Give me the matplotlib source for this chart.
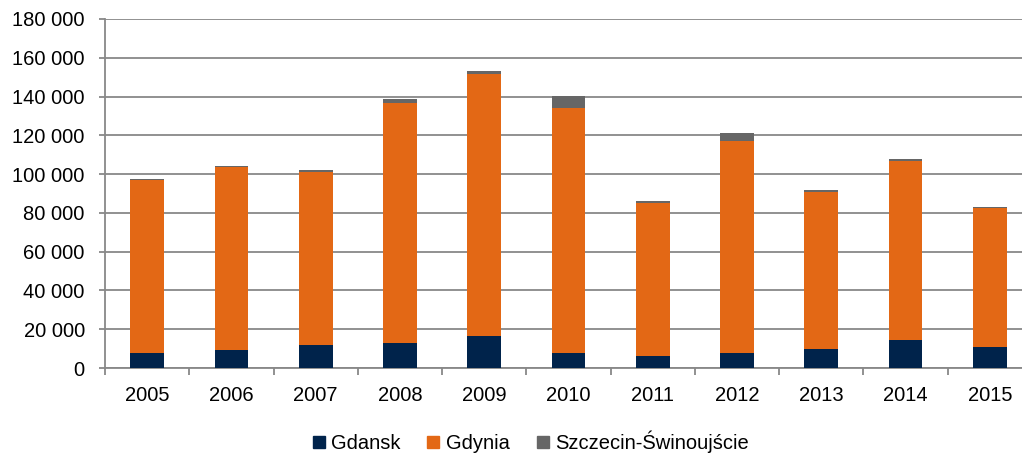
import matplotlib.pyplot as plt
import numpy as np
from matplotlib.lines import Line2D
from matplotlib.ticker import FuncFormatter, MultipleLocator

# Values (TEU)
years = ['2005', '2006', '2007', '2008', '2009', '2010', '2011', '2012', '2013', '2014', '2015']
gdansk = [7900, 9300, 11700, 12700, 16500, 7900, 6400, 7900, 10000, 14600, 10700]
gdynia = [89100, 94300, 89500, 124100, 135100, 126300, 78600, 109100, 81000, 92200, 71900]
szczecin = [700, 500, 1000, 2000, 1500, 6200, 1000, 4100, 900, 1100, 200]

series_names = ['Gdansk', 'Gdynia', 'Szczecin-Świnoujście']
colors = ['#00234b', '#e36815', '#666666']

plt.rcParams['font.family'] = ['Liberation Sans', 'DejaVu Sans']
grid_col = '#888888'

fig = plt.figure(figsize=(10.22, 4.53), dpi=100)
# plot area runs past the right edge of the picture, as in the reference
ax = fig.add_axes([105 / 1022, 1 - 368 / 453, 927 / 1022, 349 / 453])

x = np.arange(len(years))
w = 0.40
bottom = np.zeros(len(years))
for vals, col, name in zip([gdansk, gdynia, szczecin], colors, series_names):
    ax.bar(x, vals, w, bottom=bottom, color=col, label=name, zorder=3)
    bottom += np.array(vals)

ax.set_xlim(-0.5, len(years) - 0.5)
ax.set_ylim(0, 180000)
ax.yaxis.set_major_locator(MultipleLocator(20000))
ax.yaxis.set_major_formatter(FuncFormatter(lambda v, p: f'{int(v):,}'.replace(',', ' ')))
ax.grid(axis='y', color=grid_col, linewidth=1.3, zorder=0)
ax.set_axisbelow(True)

ax.set_xticks(x)
ax.set_xticklabels(years)
ax.set_xticks(np.arange(len(years) + 1) - 0.5, minor=True)
ax.tick_params(axis='x', which='major', length=0, pad=13, labelsize=14.5)
ax.tick_params(axis='x', which='minor', length=5, width=1.3, color=grid_col, direction='out')
ax.tick_params(axis='y', length=4.5, width=1.3, color=grid_col, pad=10, labelsize=14.5)

for side in ['top', 'right']:
    ax.spines[side].set_visible(False)
for side in ['left', 'bottom']:
    ax.spines[side].set_color(grid_col)
    ax.spines[side].set_linewidth(1.3)

handles = [Line2D([], [], marker='s', linestyle='none', markersize=8.5,
                  markerfacecolor=c, markeredgecolor=c) for c in colors]
fig.legend(handles, series_names, loc='center', bbox_to_anchor=(530 / 1022, 1 - 442 / 453),
           ncol=3, frameon=False, fontsize=14.5, handlelength=0.7, handletextpad=0.25,
           columnspacing=1.3, borderpad=0)

fig.savefig('out.png', dpi=100)
